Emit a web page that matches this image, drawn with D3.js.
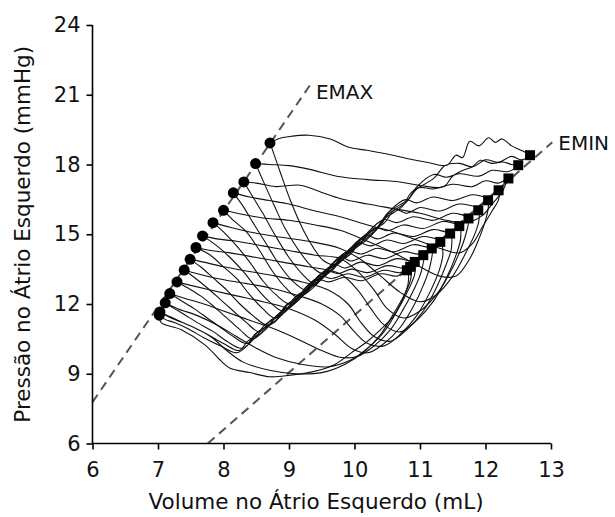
<!DOCTYPE html>
<html>
<head>
<meta charset="utf-8">
<script src="https://cdn.jsdelivr.net/npm/d3@7"></script>
<style>
  html, body { margin: 0; padding: 0; background: #fff; }
  svg { display: block; }
  text { font-family: Verdana, "DejaVu Sans", sans-serif; fill: #111; }
</style>
</head>
<body>
<svg id="chart" width="615" height="517"></svg>
<script>
// ---------- data ----------
const xTicks = [6, 7, 8, 9, 10, 11, 12, 13];
const yTicks = [6, 9, 12, 15, 18, 21, 24];
const xTitle = "Volume no Átrio Esquerdo (mL)";
const yTitle = "Pressão no Átrio Esquerdo (mmHg)";

// EMAX points (circles) and EMIN points (squares), one per beat
const emaxPoints = [[8.71,18.93],[8.49,18.04],[8.31,17.25],[8.15,16.78],[8.00,16.03],[7.84,15.50],[7.68,14.93],[7.58,14.43],[7.49,13.92],[7.40,13.46],[7.29,12.95],[7.18,12.45],[7.11,12.05],[7.03,11.66],[7.02,11.52]];
const eminPoints = [[12.68,18.40],[12.50,17.97],[12.35,17.40],[12.20,16.89],[12.04,16.46],[11.89,16.03],[11.74,15.68],[11.60,15.35],[11.46,15.03],[11.31,14.67],[11.18,14.39],[11.05,14.10],[10.92,13.81],[10.85,13.60],[10.80,13.45]];

// regression lines
const emaxLine = [[6.0,7.78],[9.32,21.41]];
const eminLine = [[7.76,6.0],[13.02,18.96]];

// pressure-volume loops (volume mL, pressure mmHg)
const loop00 = [[8.71,18.93],[8.85,19.12],[9.0,19.2],[9.3,19.26],[9.63,19.1],[9.9,18.75],[10.19,18.61],[10.5,18.45],[10.8,18.26],[11.1,18.1],[11.41,17.97],[11.55,18.4],[11.65,18.3],[11.76,19.0],[11.9,18.8],[12.05,19.15],[12.15,18.95],[12.25,19.1],[12.4,18.8],[12.55,18.6],[12.68,18.4],[12.55,18.2],[12.4,18.35],[12.2,18.1],[12.0,18.2],[11.8,17.9],[11.6,18.05],[11.38,17.95],[11.21,17.4],[10.87,16.8],[10.73,16.2],[10.43,15.6],[10.27,15.0],[9.94,14.4],[9.69,13.7],[9.52,13.88],[9.37,14.43],[9.22,15.17],[9.02,16.46],[8.91,17.32],[8.8,18.2],[8.71,18.93]];
const loop01 = [[8.49,18.04],[8.7,18.0],[9.0,17.95],[9.3,17.8],[9.78,17.47],[10.2,17.35],[10.69,17.25],[11.0,17.1],[11.36,17.04],[11.5,17.5],[11.66,17.75],[11.8,17.9],[11.92,18.18],[12.1,18.05],[12.27,18.11],[12.4,18.0],[12.5,17.97],[12.35,17.7],[12.1,17.75],[11.9,17.5],[11.6,17.6],[11.4,17.45],[11.21,17.57],[10.94,17.0],[10.8,16.4],[10.49,15.8],[10.34,15.2],[10.01,14.6],[9.85,14.0],[9.53,13.3],[9.35,13.6],[9.15,14.3],[8.95,15.2],[8.78,16.2],[8.62,17.2],[8.49,18.04]];
const loop02 = [[8.31,17.25],[8.5,17.2],[8.8,17.05],[9.17,17.11],[9.5,16.8],[9.78,16.54],[10.2,16.3],[10.6,16.1],[11.0,15.9],[11.4,15.6],[11.7,15.5],[11.95,15.8],[12.1,16.3],[12.25,16.8],[12.3,17.1],[12.35,17.4],[12.2,17.2],[12.0,17.3],[11.8,17.05],[11.5,17.15],[11.2,16.95],[10.98,17.0],[10.82,16.5],[10.5,15.9],[10.36,15.3],[10.16,14.7],[9.83,14.1],[9.66,13.5],[9.38,12.9],[9.2,13.3],[9.0,14.0],[8.8,14.9],[8.6,15.9],[8.45,16.6],[8.31,17.25]];
const loop03 = [[8.15,16.78],[8.4,16.6],[8.7,16.45],[9.0,16.3],[9.4,16.0],[9.78,15.75],[10.2,15.4],[10.6,15.1],[11.0,14.7],[11.3,14.4],[11.6,14.2],[11.8,14.6],[11.95,15.3],[12.1,16.0],[12.2,16.5],[12.2,16.89],[12.05,16.6],[11.8,16.7],[11.5,16.45],[11.2,16.6],[10.95,16.35],[10.78,16.49],[10.54,16.0],[10.4,15.4],[10.1,14.8],[9.96,14.2],[9.65,13.6],[9.38,13.0],[9.26,12.6],[9.05,13.0],[8.85,13.7],[8.65,14.6],[8.45,15.5],[8.3,16.2],[8.15,16.78]];
const loop04 = [[8.0,16.03],[8.3,15.85],[8.6,15.7],[9.0,15.6],[9.4,15.4],[9.78,15.17],[10.2,14.7],[10.6,14.2],[11.0,13.6],[11.3,13.2],[11.55,13.2],[11.75,13.9],[11.9,14.8],[12.0,15.6],[12.04,16.1],[12.04,16.46],[11.9,16.2],[11.6,16.3],[11.3,16.0],[11.0,16.15],[10.8,15.9],[10.62,16.06],[10.46,15.5],[10.13,14.9],[9.97,14.3],[9.65,13.7],[9.51,13.1],[9.14,12.3],[8.95,12.7],[8.75,13.4],[8.55,14.3],[8.35,15.1],[8.15,15.6],[8.0,16.03]];
const loop05 = [[7.84,15.5],[8.1,15.3],[8.4,15.1],[8.8,14.9],[9.3,14.7],[9.78,14.39],[10.1,13.9],[10.4,13.2],[10.7,12.5],[11.0,12.1],[11.25,12.4],[11.5,13.2],[11.7,14.2],[11.85,15.1],[11.9,15.6],[11.89,16.03],[11.75,15.8],[11.5,15.9],[11.2,15.6],[10.9,15.75],[10.65,15.5],[10.45,15.63],[10.21,15.1],[10.06,14.5],[9.72,13.9],[9.56,13.3],[9.28,12.7],[9.02,12.0],[8.8,12.4],[8.6,13.0],[8.4,13.8],[8.2,14.5],[8.0,15.1],[7.84,15.5]];
const loop06 = [[7.68,14.93],[7.9,14.8],[8.2,14.7],[8.6,14.5],[9.0,14.3],[9.4,14.1],[9.78,13.96],[10.05,13.4],[10.3,12.6],[10.5,11.8],[10.75,11.4],[11.0,11.7],[11.25,12.4],[11.45,13.3],[11.6,14.2],[11.7,15.0],[11.74,15.68],[11.6,15.45],[11.35,15.55],[11.05,15.25],[10.75,15.4],[10.5,15.15],[10.31,15.28],[10.12,14.7],[9.81,14.1],[9.68,13.5],[9.35,12.9],[9.19,12.3],[8.91,11.7],[8.7,12.1],[8.5,12.7],[8.3,13.4],[8.1,14.0],[7.9,14.5],[7.68,14.93]];
const loop07 = [[7.58,14.43],[7.8,14.3],[8.1,14.2],[8.5,14.0],[8.9,13.8],[9.3,13.6],[9.78,13.3],[10.05,12.6],[10.25,11.8],[10.45,11.1],[10.7,10.8],[10.95,11.3],[11.2,12.1],[11.4,13.1],[11.55,14.1],[11.62,14.8],[11.6,15.35],[11.45,15.1],[11.2,15.2],[10.9,14.9],[10.6,15.05],[10.35,14.8],[10.18,14.95],[9.94,14.4],[9.78,13.8],[9.44,13.2],[9.3,12.6],[8.99,12.0],[8.79,11.4],[8.6,11.8],[8.4,12.4],[8.2,13.1],[8.0,13.6],[7.8,14.1],[7.58,14.43]];
const loop08 = [[7.49,13.92],[7.7,13.8],[8.0,13.6],[8.4,13.4],[8.8,13.2],[9.2,12.95],[9.6,12.6],[9.9,12.0],[10.1,11.2],[10.3,10.6],[10.55,10.4],[10.8,10.9],[11.05,11.7],[11.25,12.7],[11.4,13.7],[11.48,14.4],[11.46,15.03],[11.3,14.8],[11.05,14.9],[10.75,14.6],[10.5,14.75],[10.25,14.5],[10.05,14.63],[9.91,14.1],[9.59,13.5],[9.43,12.9],[9.09,12.3],[8.95,11.7],[8.67,11.1],[8.45,11.5],[8.25,12.0],[8.05,12.6],[7.85,13.1],[7.65,13.6],[7.49,13.92]];
const loop09 = [[7.4,13.46],[7.6,13.3],[7.9,13.1],[8.3,12.9],[8.7,12.7],[9.1,12.4],[9.5,12.0],[9.78,11.5],[10.0,10.8],[10.2,10.3],[10.45,10.2],[10.7,10.7],[10.95,11.5],[11.15,12.5],[11.3,13.5],[11.35,14.2],[11.31,14.67],[11.15,14.45],[10.9,14.55],[10.6,14.25],[10.35,14.4],[10.1,14.15],[9.91,14.27],[9.65,13.7],[9.51,13.1],[9.2,12.5],[9.03,11.9],[8.72,11.3],[8.55,10.8],[8.35,11.2],[8.15,11.7],[7.95,12.2],[7.75,12.7],[7.55,13.15],[7.4,13.46]];
const loop10 = [[7.29,12.95],[7.5,12.8],[7.8,12.6],[8.2,12.35],[8.6,12.1],[9.0,11.8],[9.4,11.3],[9.7,10.7],[9.95,10.1],[10.2,9.9],[10.45,10.3],[10.7,11.0],[10.9,11.9],[11.05,12.8],[11.15,13.6],[11.18,14.39],[11.0,14.15],[10.75,14.25],[10.45,13.95],[10.2,14.1],[9.95,13.85],[9.8,13.99],[9.62,13.4],[9.3,12.8],[9.16,12.2],[8.85,11.6],[8.67,11.0],[8.44,10.5],[8.25,10.9],[8.05,11.4],[7.85,11.9],[7.65,12.35],[7.45,12.7],[7.29,12.95]];
const loop11 = [[7.18,12.45],[7.4,12.25],[7.7,12.0],[8.0,11.7],[8.4,11.3],[8.8,10.9],[9.2,10.4],[9.5,10.0],[9.8,9.7],[10.05,9.75],[10.3,10.2],[10.55,10.9],[10.75,11.8],[10.92,12.7],[11.02,13.4],[11.05,14.1],[10.9,13.85],[10.65,13.95],[10.35,13.65],[10.1,13.8],[9.85,13.55],[9.69,13.7],[9.42,13.1],[9.27,12.5],[8.94,11.9],[8.81,11.3],[8.53,10.8],[8.36,10.3],[8.15,10.6],[7.95,11.0],[7.75,11.4],[7.55,11.8],[7.35,12.15],[7.18,12.45]];
const loop12 = [[7.11,12.05],[7.3,11.8],[7.6,11.5],[7.9,11.1],[8.2,10.6],[8.5,10.1],[8.8,9.7],[9.2,9.4],[9.6,9.3],[9.95,9.6],[10.2,10.1],[10.45,10.8],[10.65,11.7],[10.82,12.6],[10.92,13.3],[10.92,13.81],[10.78,13.55],[10.5,13.65],[10.2,13.35],[9.95,13.5],[9.75,13.3],[9.58,13.41],[9.42,12.9],[9.11,12.3],[8.96,11.7],[8.63,11.1],[8.5,10.6],[8.28,10.1],[8.05,10.4],[7.85,10.8],[7.6,11.2],[7.4,11.55],[7.25,11.8],[7.11,12.05]];
const loop13 = [[7.03,11.66],[7.2,11.4],[7.5,11.05],[7.8,10.6],[8.05,10.0],[8.3,9.5],[8.7,9.15],[9.1,9.0],[9.5,9.05],[9.85,9.4],[10.15,9.95],[10.4,10.7],[10.6,11.6],[10.78,12.5],[10.86,13.1],[10.85,13.6],[10.7,13.35],[10.45,13.45],[10.15,13.15],[9.9,13.3],[9.65,13.1],[9.49,13.2],[9.25,12.7],[9.1,12.1],[8.81,11.5],[8.64,10.9],[8.37,10.4],[8.24,10.0],[8.0,10.3],[7.75,10.7],[7.5,11.05],[7.3,11.3],[7.15,11.5],[7.03,11.66]];
const loop14 = [[7.02,11.52],[7.05,11.2],[7.35,10.9],[7.72,10.23],[7.98,9.5],[8.1,9.24],[8.4,9.05],[8.71,8.87],[9.02,8.94],[9.37,9.09],[9.7,9.4],[9.95,9.9],[10.2,10.4],[10.39,10.88],[10.6,11.5],[10.75,12.3],[10.82,12.9],[10.8,13.45],[10.65,13.2],[10.4,13.3],[10.1,13.0],[9.85,13.15],[9.6,12.95],[9.44,13.05],[9.25,12.5],[8.94,11.9],[8.8,11.3],[8.48,10.7],[8.36,10.2],[8.2,9.9],[7.95,10.2],[7.7,10.55],[7.45,10.95],[7.25,11.2],[7.1,11.35],[7.02,11.52]];
const loops = [loop00, loop01, loop02, loop03, loop04, loop05, loop06, loop07, loop08, loop09, loop10, loop11, loop12, loop13, loop14];

// ---------- chart ----------
const svg = d3.select("#chart");
const margin = { left: 92.5, right: 64, top: 25, bottom: 73.5 };
const W = 615, H = 517;

const x = d3.scaleLinear().domain([6, 13]).range([margin.left, W - margin.right]);
const y = d3.scaleLinear().domain([6, 24]).range([H - margin.bottom, margin.top]);

// dashed regression lines
const lineGen = d3.line().x(d => x(d[0])).y(d => y(d[1]));
svg.selectAll("path.reg")
  .data([emaxLine, eminLine])
  .join("path")
  .attr("class", "reg")
  .attr("d", lineGen)
  .attr("fill", "none")
  .attr("stroke", "#555")
  .attr("stroke-width", 2)
  .attr("stroke-dasharray", "9,6");

// loops
svg.append("g")
  .selectAll("path")
  .data(loops)
  .join("path")
  .attr("d", d3.line().x(d => x(d[0])).y(d => y(d[1])).curve(d3.curveCatmullRomClosed.alpha(0.5)))
  .attr("fill", "none")
  .attr("stroke", "#111")
  .attr("stroke-width", 1.1)
  .attr("stroke-linejoin", "round");

// markers
svg.append("g")
  .selectAll("circle")
  .data(emaxPoints)
  .join("circle")
  .attr("cx", d => x(d[0]))
  .attr("cy", d => y(d[1]))
  .attr("r", 5.5)
  .attr("fill", "#000");

const sq = 10;
svg.append("g")
  .selectAll("rect")
  .data(eminPoints)
  .join("rect")
  .attr("x", d => x(d[0]) - sq / 2)
  .attr("y", d => y(d[1]) - sq / 2)
  .attr("width", sq)
  .attr("height", sq)
  .attr("fill", "#000");

// line labels
svg.append("text").attr("x", x(9.32) + 6).attr("y", y(21.41) + 14)
  .attr("font-size", 20).text("EMAX");
svg.append("text").attr("x", x(13.02) + 6).attr("y", y(18.96) + 8)
  .attr("font-size", 20).text("EMIN");

// axes
const xAxis = d3.axisBottom(x).tickValues(xTicks).tickSize(6).tickPadding(13).tickFormat(d3.format("d"));
const yAxis = d3.axisLeft(y).tickValues(yTicks).tickSize(6).tickPadding(6).tickFormat(d3.format("d"));

const gx = svg.append("g").attr("transform", `translate(0,${H - margin.bottom})`).call(xAxis);
const gy = svg.append("g").attr("transform", `translate(${margin.left},0)`).call(yAxis);

[gx, gy].forEach(g => {
  g.select(".domain").attr("stroke", "#000").attr("stroke-width", 1.6);
  g.selectAll(".tick line").attr("stroke", "#000").attr("stroke-width", 1.6);
  g.selectAll(".tick text").attr("font-size", 21).attr("fill", "#111")
    .attr("font-family", 'Verdana, "DejaVu Sans", sans-serif');
});
gx.select(".domain").attr("d", `M${x(6)},0H${x(13)}`);
gy.select(".domain").attr("d", `M0,${y(6)}V${y(24)}`);

// axis titles
svg.append("text")
  .attr("x", 316)
  .attr("y", 509)
  .attr("text-anchor", "middle")
  .attr("font-size", 21.5)
  .text(xTitle);

svg.append("text")
  .attr("transform", `translate(30,${(y(6) + y(24)) / 2}) rotate(-90)`)
  .attr("text-anchor", "middle")
  .attr("font-size", 21.5)
  .text(yTitle);
</script>
</body>
</html>
